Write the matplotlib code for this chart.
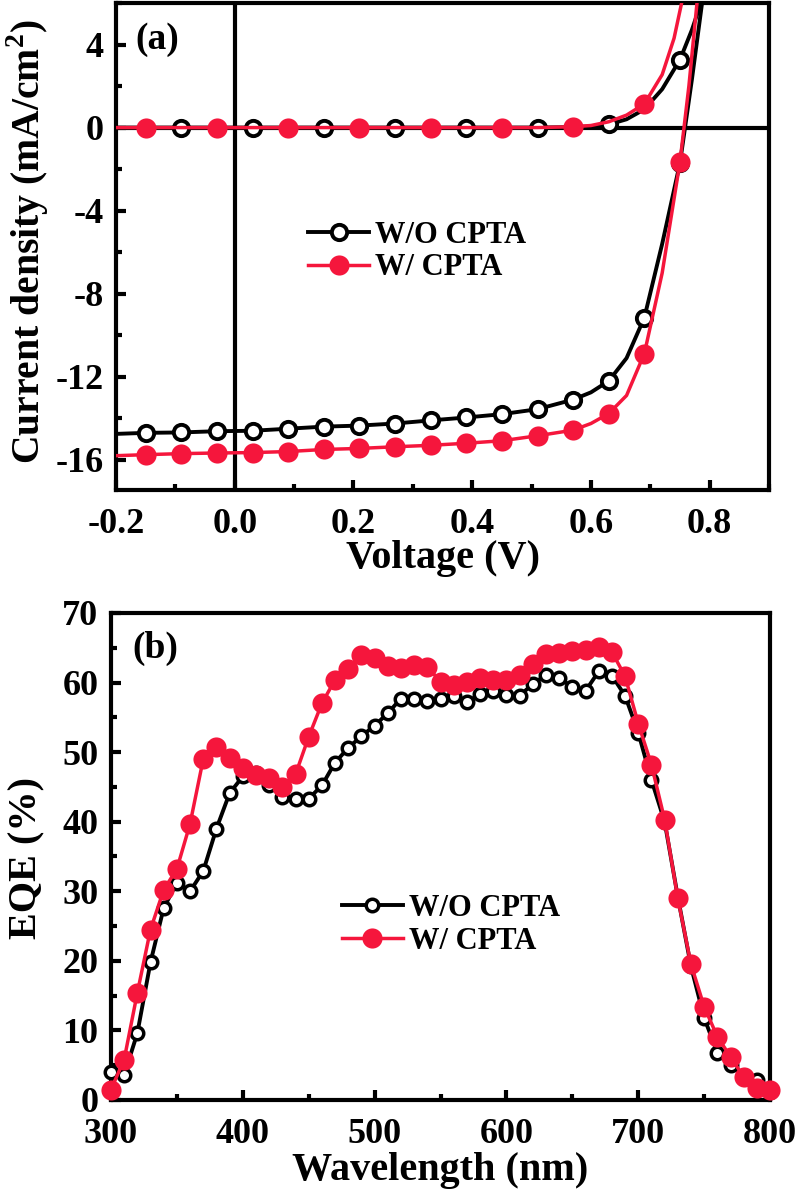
import numpy as np
import matplotlib
matplotlib.use('Agg')
import matplotlib.pyplot as plt
from matplotlib.ticker import MultipleLocator, FormatStrFormatter

plt.rcParams['font.family'] = ['Liberation Serif', 'DejaVu Serif']
plt.rcParams['font.weight'] = 'bold'
plt.rcParams['axes.unicode_minus'] = False
plt.rcParams['mathtext.fontset'] = 'custom'
plt.rcParams['mathtext.rm'] = 'Liberation Serif:bold'

RED = '#F5163C'

# ---- (a) J-V curves ----
v_light_wo = [-0.20, -0.15, -0.09, -0.03, 0.03, 0.09, 0.15, 0.21, 0.27, 0.33, 0.39,
              0.45, 0.51, 0.57, 0.60, 0.63, 0.66, 0.69, 0.72, 0.75, 0.77, 0.79]
j_light_wo = [-14.75, -14.70, -14.68, -14.62, -14.60, -14.50, -14.40, -14.35, -14.25, -14.10, -13.96,
              -13.80, -13.56, -13.10, -12.75, -12.20, -11.10, -9.15, -5.60, -1.70, 2.30, 6.60]
v_light_w = [-0.20, -0.15, -0.09, -0.03, 0.03, 0.09, 0.15, 0.21, 0.27, 0.33, 0.39,
             0.45, 0.51, 0.57, 0.60, 0.63, 0.66, 0.69, 0.72, 0.75, 0.765, 0.78]
j_light_w = [-15.80, -15.75, -15.70, -15.67, -15.65, -15.60, -15.50, -15.45, -15.37, -15.30, -15.20,
             -15.08, -14.84, -14.57, -14.25, -13.77, -12.90, -10.88, -7.00, -1.65, 2.00, 6.40]
v_dark_wo = [-0.20, -0.15, -0.09, -0.03, 0.03, 0.09, 0.15, 0.21, 0.27, 0.33, 0.39,
             0.45, 0.51, 0.57, 0.60, 0.63, 0.66, 0.69, 0.72, 0.75, 0.77, 0.79]
j_dark_wo = [0.0, 0.0, 0.0, 0.0, 0.0, 0.0, 0.0, 0.0, 0.0, 0.0, 0.0,
             0.0, 0.0, 0.02, 0.06, 0.15, 0.40, 0.88, 1.85, 3.27, 4.70, 6.40]
v_dark_w = [-0.20, -0.15, -0.09, -0.03, 0.03, 0.09, 0.15, 0.21, 0.27, 0.33, 0.39,
            0.45, 0.51, 0.57, 0.60, 0.63, 0.66, 0.69, 0.72, 0.74, 0.755]
j_dark_w = [0.0, 0.0, 0.0, 0.0, 0.0, 0.0, 0.0, 0.0, 0.0, 0.0, 0.0,
            0.0, 0.0, 0.04, 0.10, 0.28, 0.60, 1.14, 2.55, 4.30, 6.30]
mk_light = [1, 2, 3, 4, 5, 6, 7, 8, 9, 10, 11, 12, 13, 15, 17, 19]
mk_dark_wo = [2, 4, 6, 8, 10, 12, 15, 19]
mk_dark_w = [1, 3, 5, 7, 9, 11, 13, 17]

# ---- (b) EQE ----
wl = list(range(300, 801, 10))
eqe_wo = [4.0, 3.6, 9.6, 19.8, 27.6, 31.2, 30.0, 32.9, 39.0, 44.1,
          46.5, 47.0, 45.3, 43.6, 43.2, 43.3, 45.2, 48.5, 50.6, 52.3,
          53.8, 55.6, 57.7, 57.7, 57.4, 57.7, 58.0, 57.2, 58.3, 58.8,
          58.2, 58.1, 59.8, 61.1, 60.6, 59.4, 58.8, 61.6, 61.0, 58.1,
          52.8, 46.0, 40.0, 29.2, 19.2, 11.8, 6.8, 5.0, 3.4, 2.8, 1.2]
eqe_w = [1.5, 5.8, 15.4, 24.5, 30.2, 33.2, 39.7, 49.0, 50.7, 49.2,
         47.7, 46.7, 46.3, 45.0, 46.8, 52.2, 57.0, 60.4, 62.0, 63.9,
         63.5, 62.4, 62.1, 62.5, 62.3, 60.1, 59.7, 60.1, 60.6, 60.4,
         60.4, 61.1, 62.7, 64.1, 64.3, 64.6, 64.7, 65.1, 64.4, 60.9,
         54.1, 48.2, 40.3, 29.0, 19.5, 13.4, 9.1, 6.2, 3.3, 1.7, 1.5]

fig = plt.figure(figsize=(8.03, 11.93), dpi=100)
ax1 = fig.add_axes([0.1445, 0.5893, 0.8132, 0.4082])
ax2 = fig.add_axes([0.1382, 0.0780, 0.8208, 0.4082])


def style_axes(ax):
    for s in ax.spines.values():
        s.set_linewidth(3)
    ax.tick_params(which='both', direction='in', width=3, labelsize=26,
                   top=False, right=False, pad=9)
    ax.tick_params(which='major', length=7)
    ax.tick_params(which='minor', length=4)
    ax.tick_params(axis='x', pad=13)


# panel a
ax1.axhline(0, color='black', lw=3, zorder=1)
ax1.axvline(0, color='black', lw=3, zorder=1)
wo_kw = dict(color='black', lw=2.8, marker='o', ms=11, mfc='white',
             mec='black', mew=2.8, zorder=3)
w_kw = dict(color=RED, lw=2.5, marker='o', ms=14.5, mfc=RED, mec=RED, mew=0, zorder=4)
ax1.plot(v_dark_wo, j_dark_wo, markevery=mk_dark_wo, **wo_kw)
ax1.plot(v_light_wo, j_light_wo, markevery=mk_light, label='W/O CPTA', **wo_kw)
ax1.plot(v_dark_w, j_dark_w, markevery=mk_dark_w, **w_kw)
ax1.plot(v_light_w, j_light_w, markevery=mk_light, label='W/ CPTA', **w_kw)
ax1.set_xlim(-0.2, 0.9)
ax1.set_ylim(-17.45, 6.0)
ax1.xaxis.set_major_locator(MultipleLocator(0.2))
ax1.xaxis.set_minor_locator(MultipleLocator(0.1))
ax1.xaxis.set_major_formatter(FormatStrFormatter('%.1f'))
ax1.yaxis.set_major_locator(MultipleLocator(4))
ax1.yaxis.set_minor_locator(MultipleLocator(2))
style_axes(ax1)
ax1.set_xlabel('Voltage (V)', fontsize=29, fontweight='bold')
ax1.set_ylabel('Current density (mA/cm$^{\\rm 2}$)', fontsize=28.5, fontweight='bold')
ax1.xaxis.set_label_coords(0.5, -0.102)
ax1.yaxis.set_label_coords(-0.1, 0.51)
ax1.text(0.029, 0.924, '(a)', transform=ax1.transAxes, fontsize=27,
         fontweight='bold', ha='left', va='center')
ax1.legend(loc='upper left', bbox_to_anchor=(0.294, 0.552), frameon=False,
           fontsize=22, handlelength=2.0, handletextpad=0.2, labelspacing=0.1,
           borderpad=0, borderaxespad=0)

# panel b
wo_kw_b = dict(color='black', lw=2.8, marker='o', ms=9, mfc='white',
               mec='black', mew=2.5, zorder=3)
w_kw_b = dict(color=RED, lw=2.5, marker='o', ms=14.5, mfc=RED, mec=RED, mew=0, zorder=4)
ax2.plot(wl, eqe_wo, label='W/O CPTA', clip_on=False, **wo_kw_b)
ax2.plot(wl, eqe_w, label='W/ CPTA', clip_on=False, **w_kw_b)
ax2.set_xlim(300, 800)
ax2.set_ylim(0, 70)
ax2.xaxis.set_major_locator(MultipleLocator(100))
ax2.xaxis.set_minor_locator(MultipleLocator(50))
ax2.yaxis.set_major_locator(MultipleLocator(10))
ax2.yaxis.set_minor_locator(MultipleLocator(5))
style_axes(ax2)
ax2.set_xlabel('Wavelength (nm)', fontsize=29, fontweight='bold')
ax2.set_ylabel('EQE (%)', fontsize=29, fontweight='bold')
ax2.xaxis.set_label_coords(0.5, -0.106)
ax2.yaxis.set_label_coords(-0.1, 0.497)
ax2.text(0.032, 0.928, '(b)', transform=ax2.transAxes, fontsize=27,
         fontweight='bold', ha='left', va='center')
ax2.legend(loc='upper left', bbox_to_anchor=(0.35, 0.423), frameon=False,
           fontsize=22, handlelength=2.0, handletextpad=0.2, labelspacing=0.12,
           borderpad=0, borderaxespad=0)

fig.savefig('out.png', dpi=100)
